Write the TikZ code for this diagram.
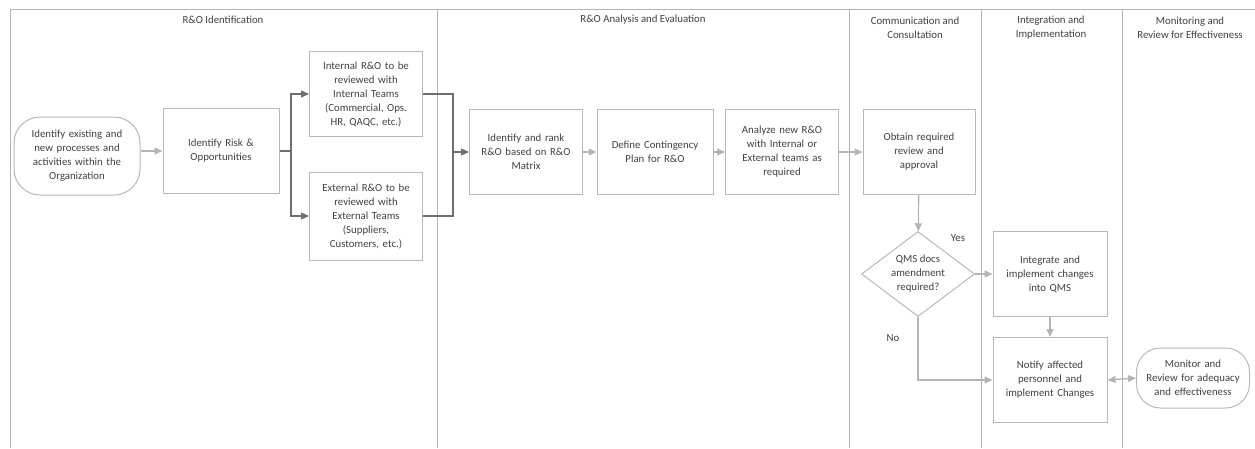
\documentclass[tikz,border=0pt]{standalone}
\usepackage{fontspec}
\setmainfont{Carlito}
\usetikzlibrary{arrows.meta,shapes.geometric}
\definecolor{lanec}{HTML}{B4B4B4}
\definecolor{boxc}{HTML}{B8B8B8}
\definecolor{arrc}{HTML}{B4B4B4}
\definecolor{darkc}{HTML}{6E6E6E}
\definecolor{txtc}{HTML}{404040}
\tikzset{
  every node/.style={text=txtc, font=\fontsize{10.8}{14}\selectfont},
  procbox/.style={draw=boxc, line width=1pt, minimum width=113pt, minimum height=85pt, inner sep=2pt, align=center, text width=108pt},
  termbox/.style={draw=boxc, line width=1pt, rounded corners=26pt, minimum width=126pt, minimum height=78pt, inner sep=2pt, align=center, text width=116pt},
  decbox/.style={draw=boxc, line width=1pt, diamond, aspect=1.33, inner sep=0pt, minimum width=113pt, minimum height=85pt, align=center},
  flow/.style={draw=arrc, line width=1.3pt, -{Triangle[length=8pt,width=7pt]}},
  dflow/.style={draw=darkc, line width=1.3pt, -{Triangle[length=8pt,width=7pt]}},
  dline/.style={draw=darkc, line width=1.3pt},
  lane/.style={draw=lanec, line width=0.8pt},
  lanetitle/.style={align=center, inner sep=0pt},
  lbl/.style={inner sep=0pt}
}
\begin{document}
\begin{tikzpicture}[x=1pt,y=-1pt]
\useasboundingbox (0,0) rectangle (1255,448);
% lanes
\draw[lane] (10,448) -- (10,9) -- (1255,9);
\draw[lane] (437,9) -- (437,448);
\draw[lane] (849,9) -- (849,448);
\draw[lane] (981,9) -- (981,448);
\draw[lane] (1122,9) -- (1122,448);
\node[lanetitle] (t1) at (223,20) {R\&O Identification};
\node[lanetitle] (t2) at (643,20) {R\&O Analysis and Evaluation};
\node[lanetitle] (t3) at (915,28) {Communication and\\Consultation};
\node[lanetitle] (t4) at (1051,28) {Integration and\\Implementation};
\node[lanetitle] (t5) at (1190,28) {Monitoring and\\Review for Effectiveness};
% nodes
\node[termbox] (start) at (77,156) {Identify existing and\\new processes and\\activities within the\\Organization};
\node[procbox, minimum width=116pt] (risk) at (221,151) {Identify Risk \&\\Opportunities};
\node[procbox] (int) at (366,94) {Internal R\&O to be\\reviewed with\\Internal Teams\\(Commercial, Ops.\\HR, QAQC, etc.)};
\node[procbox, minimum height=88pt] (ext) at (366,216) {External R\&O to be\\reviewed with\\External Teams\\(Suppliers,\\Customers, etc.)};
\node[procbox] (rank) at (526,152) {Identify and rank\\R\&O based on R\&O\\Matrix};
\node[procbox, minimum width=116pt] (plan) at (655,152) {Define Contingency\\Plan for R\&O};
\node[procbox] (anal) at (782,152) {Analyze new R\&O\\with Internal or\\External teams as\\required};
\node[procbox, minimum width=112pt] (obt) at (919,152) {Obtain required\\review and\\approval};
\node[decbox] (dec) at (918,274) {QMS docs\\amendment\\required?};
\node[procbox, minimum width=114pt] (integ) at (1050,274) {Integrate and\\implement changes\\into QMS};
\node[procbox, minimum width=114pt] (notif) at (1050,380) {Notify affected\\personnel and\\implement Changes};
\node[termbox, minimum width=113pt, minimum height=60pt, text width=108pt, rounded corners=24pt] (mon) at (1193,378) {Monitor and\\Review for adequacy\\and effectiveness};
\node[lbl] (yes) at (958,238) {Yes};
\node[lbl] (no) at (893,338) {No};
% coordinates
\coordinate (b1) at (291,151);
\coordinate (m1) at (453,152);
% connectors
\draw[flow] (start.east |- risk.west) -- (risk.west);
\draw[dline] (risk.east) -- (b1);
\draw[dflow] (b1) |- (int.west);
\draw[dflow] (b1) |- (ext.west);
\draw[dline] (int.east) -| (m1);
\draw[dline] (ext.east) -| (m1);
\draw[dflow] (m1) -- (rank.west);
\draw[flow] (rank) -- (plan);
\draw[flow] (plan) -- (anal);
\draw[flow] (anal) -- (obt);
\draw[flow] (obt) -- (dec);
\draw[flow] (dec.east) -- (integ.west);
\draw[flow] (integ) -- (notif);
\draw[flow] (dec.south) |- (notif.west);
\draw[draw=arrc, line width=1.3pt, {Triangle[length=8pt,width=7pt]}-{Triangle[length=8pt,width=7pt]}] (notif.east) -- (mon.west);
\end{tikzpicture}
\end{document}
